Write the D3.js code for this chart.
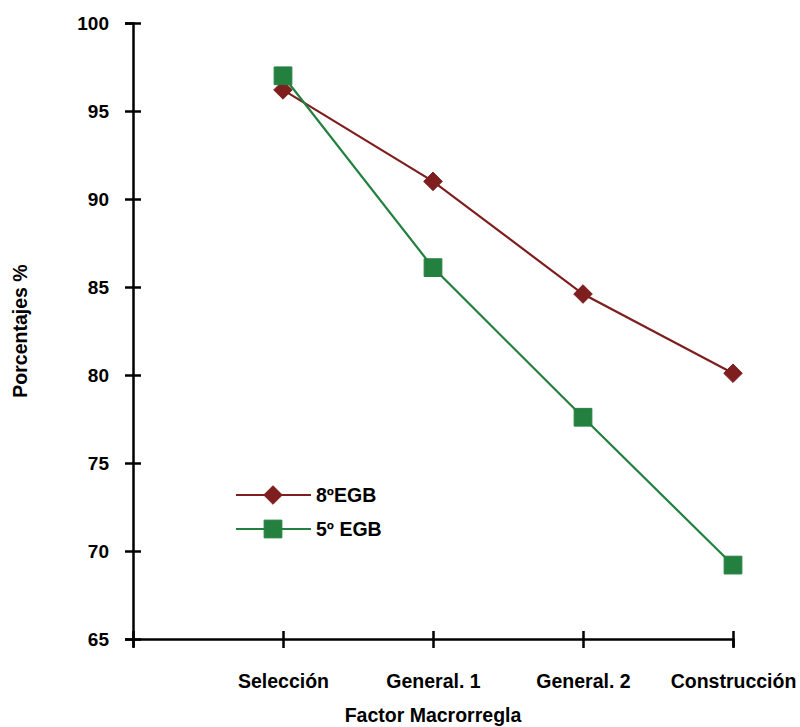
<!DOCTYPE html>
<html>
<head>
<meta charset="utf-8">
<script src="https://cdn.jsdelivr.net/npm/d3@7"></script>
<style>
  body { margin: 0; background: #fff; }
  svg { display: block; font-family: "Liberation Sans", Arial, sans-serif; font-weight: bold; }
</style>
</head>
<body>
<svg id="chart" width="800" height="727"></svg>
<script>
const categories = ["Selección", "General. 1", "General. 2", "Construcción"];
const seriesNames = ["8ºEGB", "5º EGB"];
const values8 = [96.2, 91.0, 84.6, 80.1];
const values5 = [97.0, 86.1, 77.6, 69.2];
const yTicks = [65, 70, 75, 80, 85, 90, 95, 100];
const colors = ["#7e1e1f", "#23803f"];

const svg = d3.select("#chart");
const x = d3.scaleLinear().domain([0, 4]).range([133, 733]);
const y = d3.scaleLinear().domain([65, 100]).range([639, 23]);

// Y axis
const gy = svg.append("g").attr("transform", "translate(133,0)")
  .call(d3.axisLeft(y).tickValues(yTicks).tickSizeOuter(0).tickSize(8).tickPadding(0));
gy.select(".domain").attr("stroke", "#000").attr("stroke-width", 2.5);
gy.selectAll(".tick line").attr("x1", -8).attr("x2", 8).attr("stroke", "#000").attr("stroke-width", 2.5);
gy.selectAll(".tick text").attr("x", -24).attr("dy", "0.35em")
  .style("font-size", "19px").style("font-weight", "bold").style("font-family", "Liberation Sans, Arial, sans-serif").attr("fill", "#000");

// X axis
const gx = svg.append("g").attr("transform", "translate(0,639)")
  .call(d3.axisBottom(x).tickValues([0, 1, 2, 3, 4]).tickSizeOuter(0).tickSize(8)
    .tickFormat(d => d === 0 ? "" : categories[d - 1]));
gx.select(".domain").attr("stroke", "#000").attr("stroke-width", 2.5);
gx.selectAll(".tick line").attr("y1", -8).attr("y2", 9).attr("stroke", "#000").attr("stroke-width", 2.5);
gx.selectAll(".tick text").attr("y", 49).attr("dy", 0)
  .style("font-size", "19.5px").style("font-weight", "bold").style("font-family", "Liberation Sans, Arial, sans-serif").attr("fill", "#000");

// Axis titles
svg.append("text").attr("x", 433).attr("y", 722).attr("text-anchor", "middle")
  .style("font-size", "19.5px").text("Factor Macrorregla");
svg.append("text").attr("transform", "translate(27,331) rotate(-90)").attr("text-anchor", "middle")
  .style("font-size", "19.5px").text("Porcentajes %");

const line = d3.line().x((d, i) => x(i + 1)).y(d => y(d));
const diamond = d3.symbol().type(d3.symbolDiamond2).size(220);
const square = d3.symbol().type(d3.symbolSquare2).size(400);

function drawSeries(vals, color, sym, rot) {
  svg.append("path").datum(vals).attr("d", line).attr("fill", "none")
    .attr("stroke", color).attr("stroke-width", 2.2);
  svg.selectAll(null).data(vals).enter().append("path")
    .attr("transform", (d, i) => `translate(${x(i + 1)},${y(d)})`)
    .attr("d", sym).attr("fill", color).attr("stroke", color).attr("stroke-width", 1).attr("stroke-linejoin", "round");
}
drawSeries(values8, colors[0], diamond);
drawSeries(values5, colors[1], square);

// Legend
const legendY = [495, 529];
const legendSyms = [diamond, square];
seriesNames.forEach((name, i) => {
  const g = svg.append("g").attr("transform", `translate(0,${legendY[i]})`);
  g.append("line").attr("x1", 236).attr("x2", 311).attr("y1", 0).attr("y2", 0)
    .attr("stroke", colors[i]).attr("stroke-width", 2.2);
  g.append("path").attr("transform", "translate(273,0)").attr("d", legendSyms[i])
    .attr("fill", colors[i]).attr("stroke", colors[i]).attr("stroke-width", 1).attr("stroke-linejoin", "round");
  g.append("text").attr("x", 316).attr("y", 7).style("font-size", "19.5px").attr("fill", "#000").text(name);
});
</script>
</body>
</html>
